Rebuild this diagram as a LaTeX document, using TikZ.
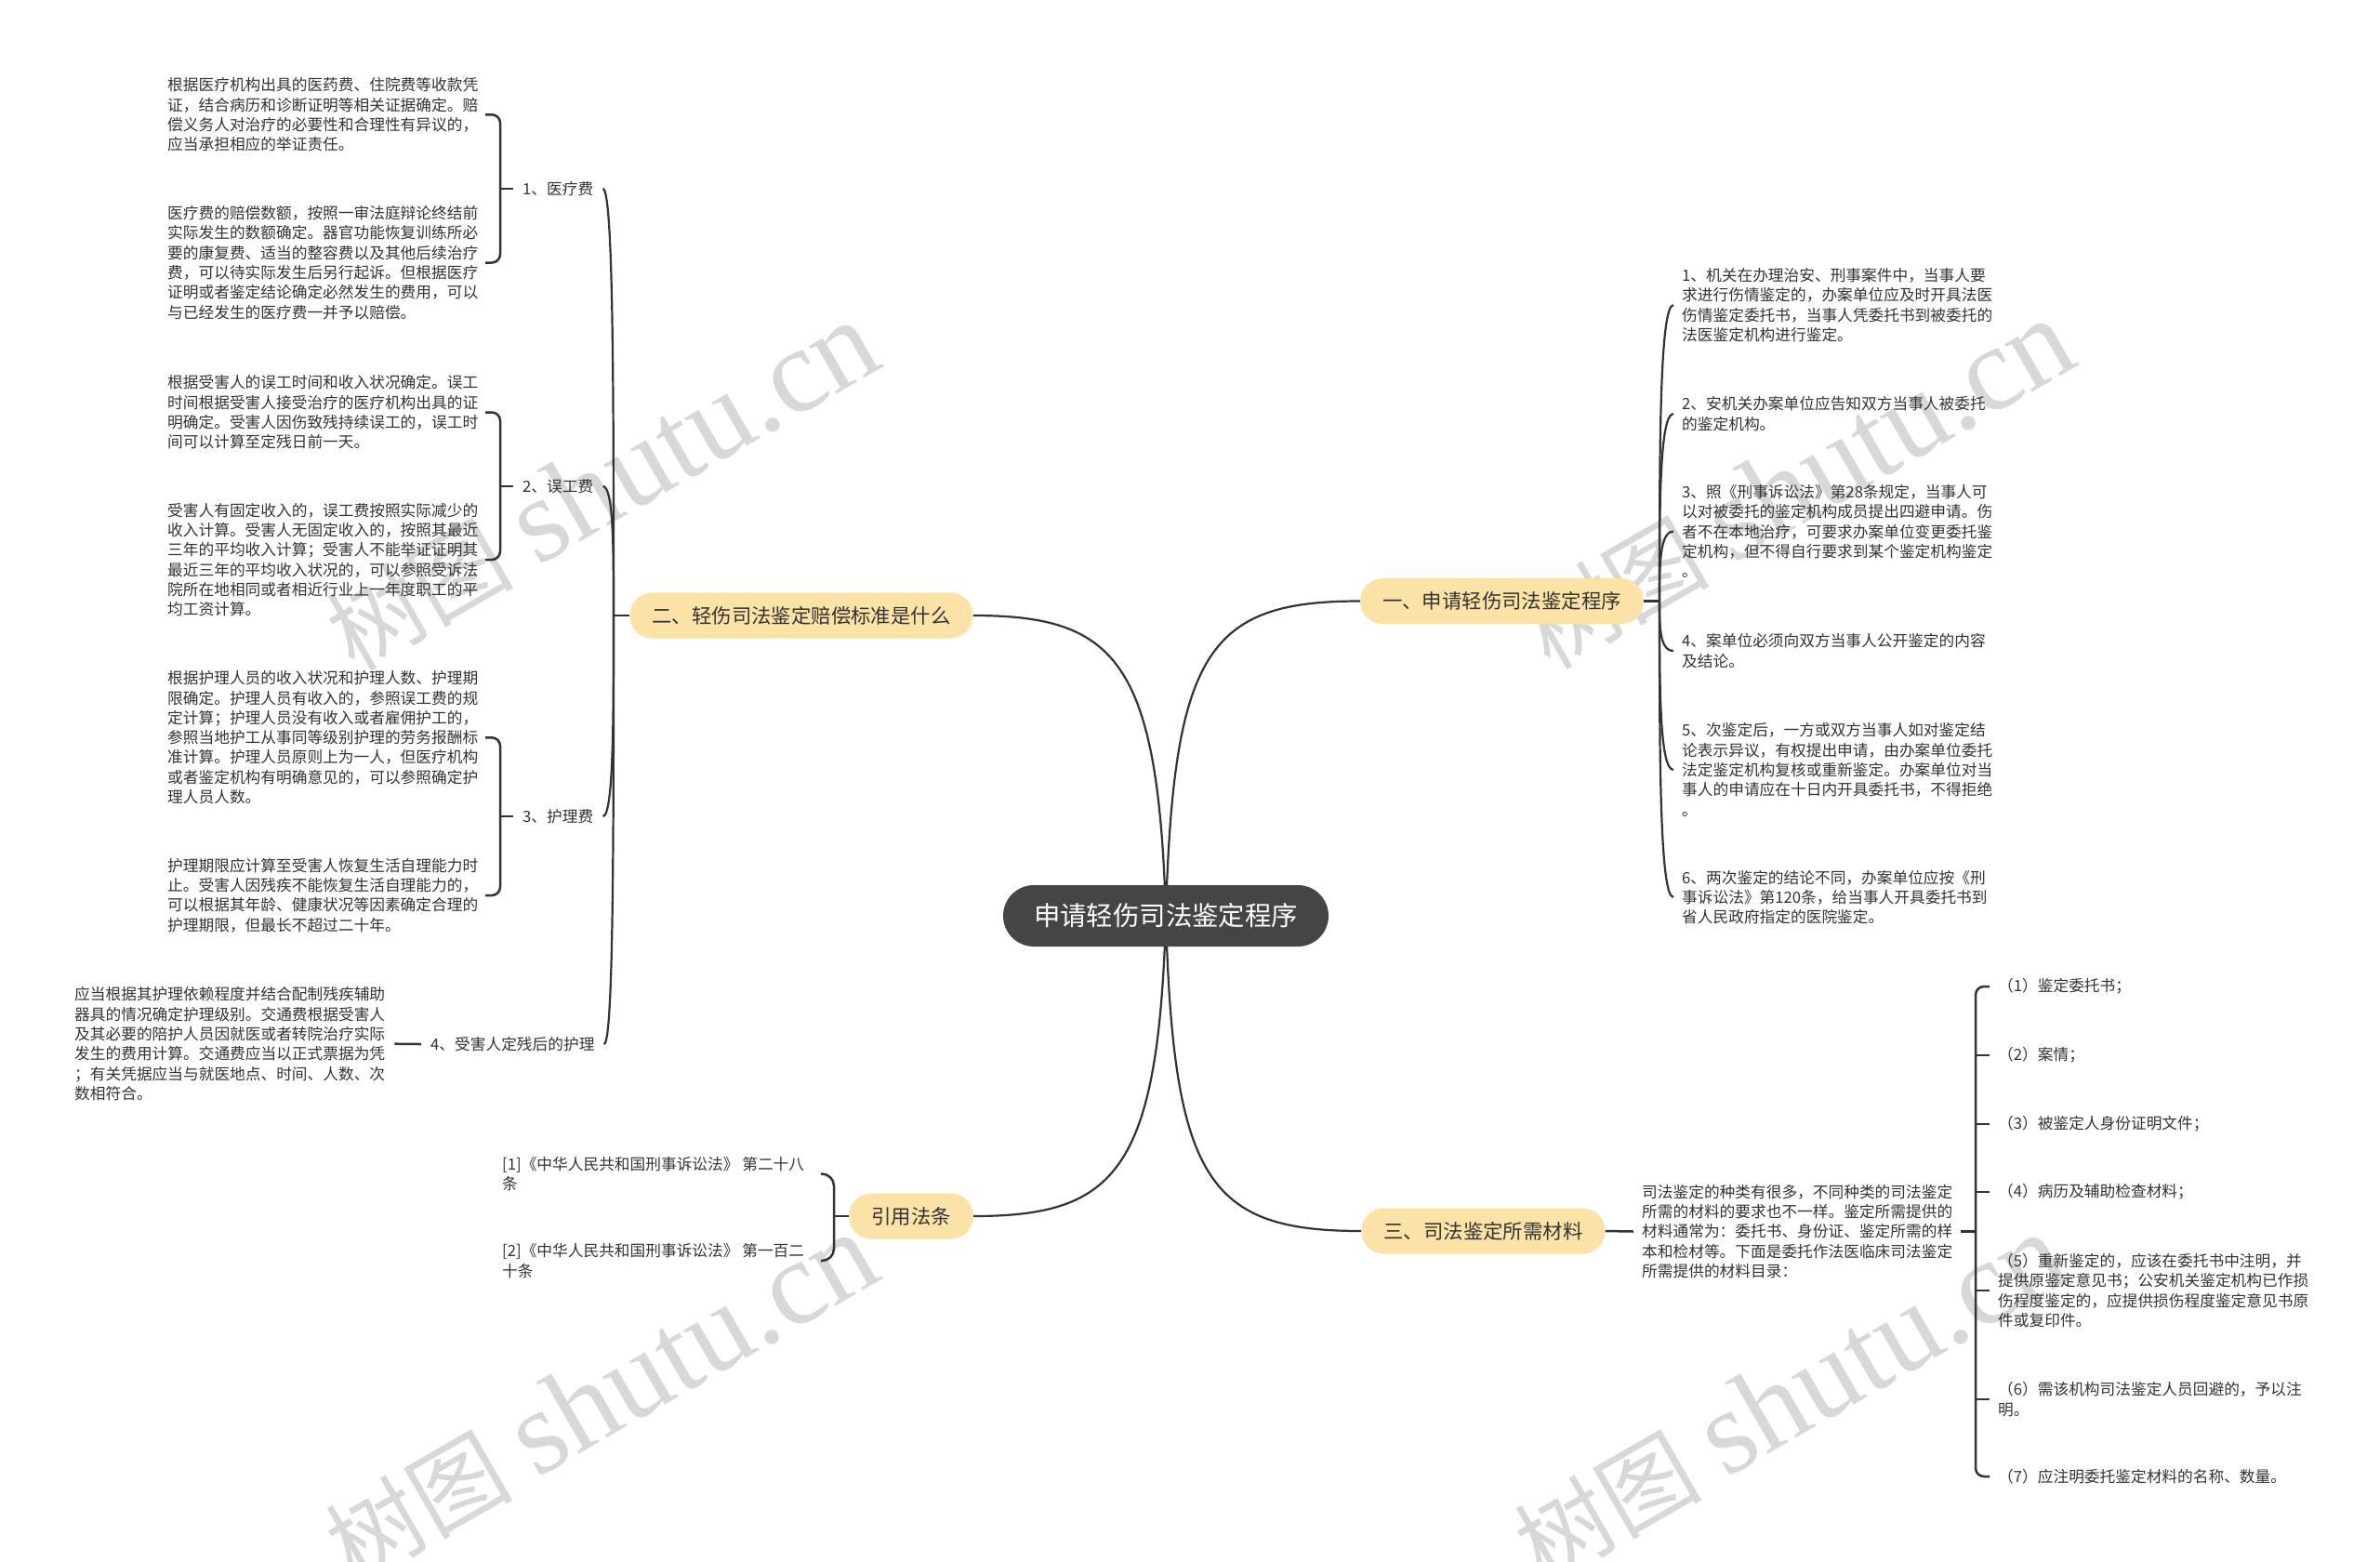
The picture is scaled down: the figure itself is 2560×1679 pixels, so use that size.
\documentclass[tikz,border=0pt]{standalone}
\usepackage{fontspec}
\setmainfont{Noto Sans CJK SC}
\newfontfamily\wmlatin{Liberation Serif}
\usetikzlibrary{backgrounds}
\definecolor{ink}{HTML}{333333}
\definecolor{linec}{HTML}{333333}
\definecolor{branchfill}{HTML}{FBE3A8}
\definecolor{centerfill}{HTML}{454545}
\definecolor{wm}{HTML}{D8D8D8}
\begin{document}
\begin{tikzpicture}[x=1pt,y=-1pt,
  txt/.style={anchor=west, align=left, inner sep=0pt, text=ink, font=\fontsize{16.7pt}{21.3pt}\selectfont},
  lbl/.style={anchor=west, inner sep=0pt, text=ink, font=\fontsize{16.7pt}{21.3pt}\selectfont},
  branch/.style={fill=branchfill, rounded corners=24pt, inner xsep=24pt, inner ysep=0pt, minimum height=49pt, text=ink, font=\fontsize{21.4pt}{25pt}\selectfont},
  root/.style={fill=centerfill, rounded corners=33pt, inner xsep=33pt, inner ysep=0pt, minimum height=66pt, text=white, font=\fontsize{28.4pt}{32pt}\selectfont},
  conn/.style={draw=linec, line width=2.2pt},
  brk/.style={draw=linec, line width=2.5pt, rounded corners=9pt},
  wmark/.style={text=wm, rotate=30, inner sep=0pt, font=\fontsize{101pt}{106pt}\selectfont}
]
\useasboundingbox (0,0) rectangle (2560,1679);
\clip (0,0) rectangle (2560,1679);

% main nodes
\node[root] (C) at (1254,985) {申请轻伤司法鉴定程序};
\node[branch] (B1) at (1615.5,646.5) {一、申请轻伤司法鉴定程序};
\node[branch] (B2) at (862,662) {二、轻伤司法鉴定赔偿标准是什么};
\node[branch] (B3) at (1595.5,1324) {三、司法鉴定所需材料};
\node[branch] (B4) at (980,1308) {引用法条};

% branch one children
\node[txt] (R1) at (1809,328) {1、机关在办理治安、刑事案件中，当事人要\\求进行伤情鉴定的，办案单位应及时开具法医\\伤情鉴定委托书，当事人凭委托书到被委托的\\法医鉴定机构进行鉴定。};
\node[txt] (R2) at (1809,445) {2、安机关办案单位应告知双方当事人被委托\\的鉴定机构。};
\node[txt] (R3) at (1809,571.6) {3、照《刑事诉讼法》第28条规定，当事人可\\以对被委托的鉴定机构成员提出四避申请。伤\\者不在本地治疗，可要求办案单位变更委托鉴\\定机构，但不得自行要求到某个鉴定机构鉴定\\。};
\node[txt] (R4) at (1809,700) {4、案单位必须向双方当事人公开鉴定的内容\\及结论。};
\node[txt] (R5) at (1809,828) {5、次鉴定后，一方或双方当事人如对鉴定结\\论表示异议，有权提出申请，由办案单位委托\\法定鉴定机构复核或重新鉴定。办案单位对当\\事人的申请应在十日内开具委托书，不得拒绝\\。};
\node[txt] (R6) at (1809,965) {6、两次鉴定的结论不同，办案单位应按《刑\\事诉讼法》第120条，给当事人开具委托书到\\省人民政府指定的医院鉴定。};

% branch two labels
\node[lbl] (L1) at (562,203) {1、医疗费};
\node[lbl] (L2) at (562,523) {2、误工费};
\node[lbl] (L3) at (562,878) {3、护理费};
\node[lbl] (L4) at (463,1123) {4、受害人定残后的护理};

% branch two texts
\node[txt] (T1a) at (180,123.3) {根据医疗机构出具的医药费、住院费等收款凭\\证，结合病历和诊断证明等相关证据确定。赔\\偿义务人对治疗的必要性和合理性有异议的，\\应当承担相应的举证责任。};
\node[txt] (T1b) at (180,282.5) {医疗费的赔偿数额，按照一审法庭辩论终结前\\实际发生的数额确定。器官功能恢复训练所必\\要的康复费、适当的整容费以及其他后续治疗\\费，可以待实际发生后另行起诉。但根据医疗\\证明或者鉴定结论确定必然发生的费用，可以\\与已经发生的医疗费一并予以赔偿。};
\node[txt] (T2a) at (180,443.5) {根据受害人的误工时间和收入状况确定。误工\\时间根据受害人接受治疗的医疗机构出具的证\\明确定。受害人因伤致残持续误工的，误工时\\间可以计算至定残日前一天。};
\node[txt] (T2b) at (180,602) {受害人有固定收入的，误工费按照实际减少的\\收入计算。受害人无固定收入的，按照其最近\\三年的平均收入计算；受害人不能举证证明其\\最近三年的平均收入状况的，可以参照受诉法\\院所在地相同或者相近行业上一年度职工的平\\均工资计算。};
\node[txt] (T3a) at (180,793.3) {根据护理人员的收入状况和护理人数、护理期\\限确定。护理人员有收入的，参照误工费的规\\定计算；护理人员没有收入或者雇佣护工的，\\参照当地护工从事同等级别护理的劳务报酬标\\准计算。护理人员原则上为一人，但医疗机构\\或者鉴定机构有明确意见的，可以参照确定护\\理人员人数。};
\node[txt] (T3b) at (180,963) {护理期限应计算至受害人恢复生活自理能力时\\止。受害人因残疾不能恢复生活自理能力的，\\可以根据其年龄、健康状况等因素确定合理的\\护理期限，但最长不超过二十年。};
\node[txt] (T4) at (80,1122.7) {应当根据其护理依赖程度并结合配制残疾辅助\\器具的情况确定护理级别。交通费根据受害人\\及其必要的陪护人员因就医或者转院治疗实际\\发生的费用计算。交通费应当以正式票据为凭\\；有关凭据应当与就医地点、时间、人数、次\\数相符合。};

% citations
\node[txt] (K1) at (540,1262.5) {[1]《中华人民共和国刑事诉讼法》 第二十八\\条};
\node[txt] (K2) at (540,1356) {[2]《中华人民共和国刑事诉讼法》 第一百二\\十条};

% branch three
\node[txt] (S0) at (1766,1324.5) {司法鉴定的种类有很多，不同种类的司法鉴定\\所需的材料的要求也不一样。鉴定所需提供的\\材料通常为：委托书、身份证、鉴定所需的样\\本和检材等。下面是委托作法医临床司法鉴定\\所需提供的材料目录：};
\node[txt] (M1) at (2149,1061) {（1）鉴定委托书；};
\node[txt] (M2) at (2149,1135) {（2）案情；};
\node[txt] (M3) at (2149,1209) {（3）被鉴定人身份证明文件；};
\node[txt] (M4) at (2149,1282) {（4）病历及辅助检查材料；};
\node[txt] (M5) at (2149,1388) {（5）重新鉴定的，应该在委托书中注明，并\\提供原鉴定意见书；公安机关鉴定机构已作损\\伤程度鉴定的，应提供损伤程度鉴定意见书原\\件或复印件。};
\node[txt] (M6) at (2149,1505) {（6）需该机构司法鉴定人员回避的，予以注\\明。};
\node[txt] (M7) at (2149,1588) {（7）应注明委托鉴定材料的名称、数量。};

% helper coordinates
\coordinate (o1) at (1785,646.5);
\coordinate (o2) at (660,662);
\coordinate (kL) at (522,0);
\coordinate (sL) at (538,0);
\coordinate (kR) at (2140,0);
\coordinate (sR) at (2125,0);
\coordinate (kC) at (883,0);
\coordinate (sC) at (897,0);

\begin{pgfonlayer}{background}
\fill[white] (0,0) rectangle (2560,1679);
% watermarks
\node[wmark] (W1) at (647,523) {树图\hspace{0.25em}{\wmlatin\fontsize{129pt}{134pt}\selectfont shutu.cn}};
\node[wmark] (W2) at (1933,521) {树图\hspace{0.25em}{\wmlatin\fontsize{129pt}{134pt}\selectfont shutu.cn}};
\node[wmark] (W3) at (646,1504) {树图\hspace{0.25em}{\wmlatin\fontsize{129pt}{134pt}\selectfont shutu.cn}};
\node[wmark] (W4) at (1925,1504) {树图\hspace{0.25em}{\wmlatin\fontsize{129pt}{134pt}\selectfont shutu.cn}};

% root connectors
\draw[conn] (C.center) .. controls (1262,700) and (1300,646.5) .. (B1.west);
\draw[conn] (C.center) .. controls (1246,710) and (1200,662) .. (B2.east);
\draw[conn] (C.center) .. controls (1262,1270) and (1300,1324) .. (B3.west);
\draw[conn] (C.center) .. controls (1246,1260) and (1200,1308) .. (B4.east);

% branch one
\draw[conn] (B1.east) -- (o1);
\draw[conn] (o1) .. controls (1785,487) and (1785,328) .. ([xshift=-9pt]R1.west);
\draw[conn] (o1) .. controls (1785,546) and (1785,445) .. ([xshift=-9pt]R2.west);
\draw[conn] (o1) .. controls (1785,609) and (1785,571.6) .. ([xshift=-9pt]R3.west);
\draw[conn] (o1) .. controls (1785,673) and (1785,700) .. ([xshift=-9pt]R4.west);
\draw[conn] (o1) .. controls (1785,737) and (1785,828) .. ([xshift=-9pt]R5.west);
\draw[conn] (o1) .. controls (1785,806) and (1785,965) .. ([xshift=-9pt]R6.west);

% branch two
\draw[conn] (B2.west) -- (o2);
\draw[conn] (o2) .. controls (660,432.5) and (660,203) .. ([xshift=10pt]L1.east);
\draw[conn] (o2) .. controls (660,592.5) and (660,523) .. ([xshift=10pt]L2.east);
\draw[conn] (o2) .. controls (660,770) and (660,878) .. ([xshift=10pt]L3.east);
\draw[conn] (o2) .. controls (660,892.5) and (660,1123) .. ([xshift=10pt]L4.east);

\draw[brk] (T1a.east -| kL) -- (T1a.east -| sL) -- (T1b.east -| sL) -- (T1b.east -| kL);
\draw[brk] ([xshift=-10pt]L1.west) -- (L1.west -| sL);
\draw[brk] (T2a.east -| kL) -- (T2a.east -| sL) -- (T2b.east -| sL) -- (T2b.east -| kL);
\draw[brk] ([xshift=-10pt]L2.west) -- (L2.west -| sL);
\draw[brk] (T3a.east -| kL) -- (T3a.east -| sL) -- (T3b.east -| sL) -- (T3b.east -| kL);
\draw[brk] ([xshift=-10pt]L3.west) -- (L3.west -| sL);
\draw[brk] ([xshift=-10pt]L4.west) -- ([xshift=10pt]T4.east);

% citations
\draw[brk, rounded corners=13pt] (K1.east -| kC) -- (K1.east -| sC) -- (K2.east -| sC) -- (K2.east -| kC);
\draw[brk] (B4.west) -- (B4.west -| sC);

% branch three
\draw[brk] (B3.east) -- ([xshift=-9pt]S0.west);
\draw[brk] ([xshift=9pt]S0.east) -- (S0.east -| sR);
\draw[brk] (M1.west -| kR) -- (M1.west -| sR) -- (M7.west -| sR) -- (M7.west -| kR);
\draw[brk] (M2.west -| sR) -- (M2.west -| kR);
\draw[brk] (M3.west -| sR) -- (M3.west -| kR);
\draw[brk] (M4.west -| sR) -- (M4.west -| kR);
\draw[brk] (M5.west -| sR) -- (M5.west -| kR);
\draw[brk] (M6.west -| sR) -- (M6.west -| kR);
\end{pgfonlayer}
\end{tikzpicture}
\end{document}
